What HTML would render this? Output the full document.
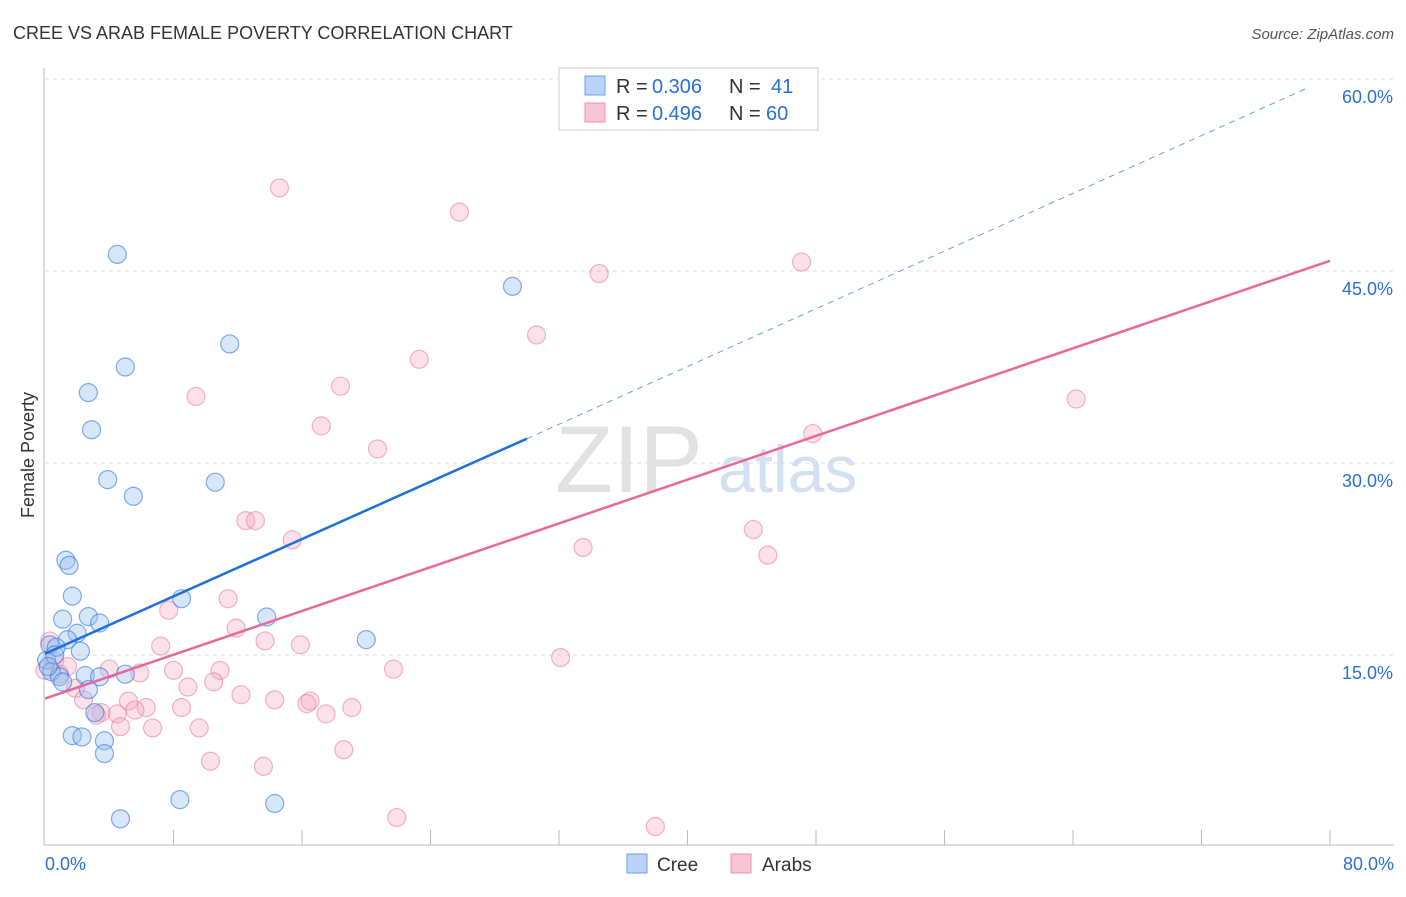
<!DOCTYPE html>
<html><head><meta charset="utf-8"><style>
body{margin:0;background:#fff;font-family:"Liberation Sans",sans-serif;}
svg text{font-family:"Liberation Sans",sans-serif;}
</style></head><body>
<svg id="chart" width="1406" height="892">
<text x="13" y="39" font-size="18" fill="#333">CREE VS ARAB FEMALE POVERTY CORRELATION CHART</text>
<text x="1394" y="39" font-size="15" fill="#555" text-anchor="end" font-style="italic">Source: ZipAtlas.com</text>
<text x="34" y="455" font-size="18" fill="#333" text-anchor="middle" transform="rotate(-90 34 455)">Female Poverty</text>
<text x="555" y="492" font-size="95" fill="#e2e2e2" font-family="Liberation Serif">ZIP</text>
<text x="718" y="492" font-size="66" fill="#d3e0f2">atlas</text>
<g id="grid"></g><g id="axes"></g><g id="pts"></g><g id="lines"></g>
<g>
<rect x="559" y="68" width="259" height="62" fill="#fff" stroke="#ccc"/>
<rect x="585" y="76" width="20" height="19" fill="#b8d3f5" stroke="#6f9fe0"/>
<rect x="585" y="103" width="20" height="19" fill="#f9c6d5" stroke="#e992ad"/>
<g font-size="20">
<text x="616" y="93" fill="#333">R =</text><text x="652" y="93" fill="#2a6fd6">0.306</text>
<text x="729" y="93" fill="#333">N =</text><text x="771" y="93" fill="#2a6fd6">41</text></g>
<g font-size="20">
<text x="616" y="120" fill="#333">R =</text><text x="652" y="120" fill="#2a6fd6">0.496</text>
<text x="729" y="120" fill="#333">N =</text><text x="766" y="120" fill="#2a6fd6">60</text></g>
</g>
<g>
<rect x="627" y="854" width="20" height="19" fill="#b8d3f5" stroke="#6f9fe0"/>
<text x="657" y="871" font-size="19" fill="#333">Cree</text>
<rect x="731" y="854" width="20" height="19" fill="#f9c6d5" stroke="#e992ad"/>
<text x="762" y="871" font-size="19" fill="#333">Arabs</text>
</g>
</svg>
<script>
const yTicks=[15,30,45,60];
const xTickLabels=["0.0%","80.0%"];
const creeX=[4.5,29.1,5,11.5,2.7,2.9,3.9,5.5,10.6,1.3,1.5,1.7,8.5,1.1,2.7,3.4,13.8,2,1.4,2.2,20,0.3,0.7,0.1,0.4,0.9,2.5,3.4,5,2.7,3.1,1.7,2.3,3.7,3.7,8.4,14.3,4.7,0.6,1.1,0.2];
const creeY=[46.3,43.8,37.5,39.3,35.5,32.6,28.7,27.4,28.5,22.4,22,19.6,19.4,17.8,18,17.5,17.97,16.7,16.2,15.3,16.2,15.8,15.6,14.6,13.7,13.3,13.4,13.3,13.5,12.3,10.5,8.7,8.6,8.3,7.3,3.7,3.4,2.2,15,12.9,14.1];
const arabX=[14.6,25.8,34.5,47.1,30.6,23.3,9.4,18.4,64.2,17.2,20.7,47.8,12.5,13.1,15.4,33.5,44.1,45,11.4,7.7,11.9,13.7,15.9,7.2,32.1,21.7,0.3,0.6,1.4,4,5.9,8,10.9,10.5,8.9,1.9,2.4,5.2,12.2,14.3,16.5,16.3,19.1,17.5,8.5,6.3,3.5,5.6,4.5,3.2,4.7,6.7,9.6,18.6,10.3,13.6,21.9,38,0.9,0];
const arabY=[51.5,49.6,44.8,45.7,40,38.1,35.2,36,35,32.9,31.1,32.3,25.5,25.5,24,23.4,24.8,22.8,19.4,18.5,17.1,16.1,15.8,15.7,14.8,13.9,16.1,14.5,14.1,13.9,13.6,13.8,13.8,12.9,12.5,12.4,11.5,11.4,11.9,11.5,11.4,11.2,10.9,10.4,10.9,10.9,10.5,10.7,10.4,10.3,9.4,9.3,9.3,7.6,6.7,6.3,2.3,1.6,13.5,13.8];
const creeLine=[0,15.1,30,31.9];const creeDash=[30,31.9,78.6,59.3];
const arabLine=[0,11.6,80,45.8];
const sx=v=>45+v/80*1285, sy=v=>847-v*12.8;
const NS="http://www.w3.org/2000/svg";
function mk(tag,attrs,parent){const e=document.createElementNS(NS,tag);for(const k in attrs)e.setAttribute(k,attrs[k]);document.getElementById(parent).appendChild(e);return e;}
yTicks.forEach(t=>{
 const l=mk("line",{x1:45,x2:1394,y1:sy(t),y2:sy(t),stroke:"#ddd","stroke-dasharray":"4,4"},"grid");
 
 
 const tx=mk("text",{x:1393,y:sy(t)+24,"font-size":18,fill:"#2a6fd6","text-anchor":"end"},"grid");
 tx.textContent=t.toFixed(1)+"%";
 
 
});
const ax=mk("line",{x1:44,x2:44,y1:68,y2:845,stroke:"#bbb"},"axes");


const bx=mk("line",{x1:44,x2:1394,y1:845,y2:845,stroke:"#bbb"},"axes");


for(let i=1;i<=10;i++){const t=mk("line",{x1:sx(i*8),x2:sx(i*8),y1:830,y2:845,stroke:"#bbb"},"axes");
 
 }
[[0,"start",45],[80,"end",1394]].forEach((d,i)=>{const t=mk("text",{x:d[2],y:870,"font-size":18,fill:"#2a6fd6","text-anchor":d[1]},"axes");t.textContent=xTickLabels[i];
 
 });
arabX.forEach((x,i)=>{const c=mk("circle",{cx:sx(x),cy:sy(arabY[i]),r:9,fill:"rgba(246,170,195,0.35)",stroke:"rgba(232,120,155,0.55)","stroke-width":1.2},"pts");
 
 });
creeX.forEach((x,i)=>{const c=mk("circle",{cx:sx(x),cy:sy(creeY[i]),r:9,fill:"rgba(150,190,240,0.38)",stroke:"rgba(50,120,220,0.6)","stroke-width":1.2},"pts");
 
 });
const l1=mk("line",{x1:sx(creeLine[0]),y1:sy(creeLine[1]),x2:sx(creeLine[2]),y2:sy(creeLine[3]),stroke:"#1f6fd8","stroke-width":2.5},"lines");


const l2=mk("line",{x1:sx(creeDash[0]),y1:sy(creeDash[1]),x2:sx(creeDash[2]),y2:sy(creeDash[3]),stroke:"#6d9fe0","stroke-width":1,"stroke-dasharray":"6,5"},"lines");


const l3=mk("line",{x1:sx(arabLine[0]),y1:sy(arabLine[1]),x2:sx(arabLine[2]),y2:sy(arabLine[3]),stroke:"#e8689a","stroke-width":2.5},"lines");


</script>
</body></html>
